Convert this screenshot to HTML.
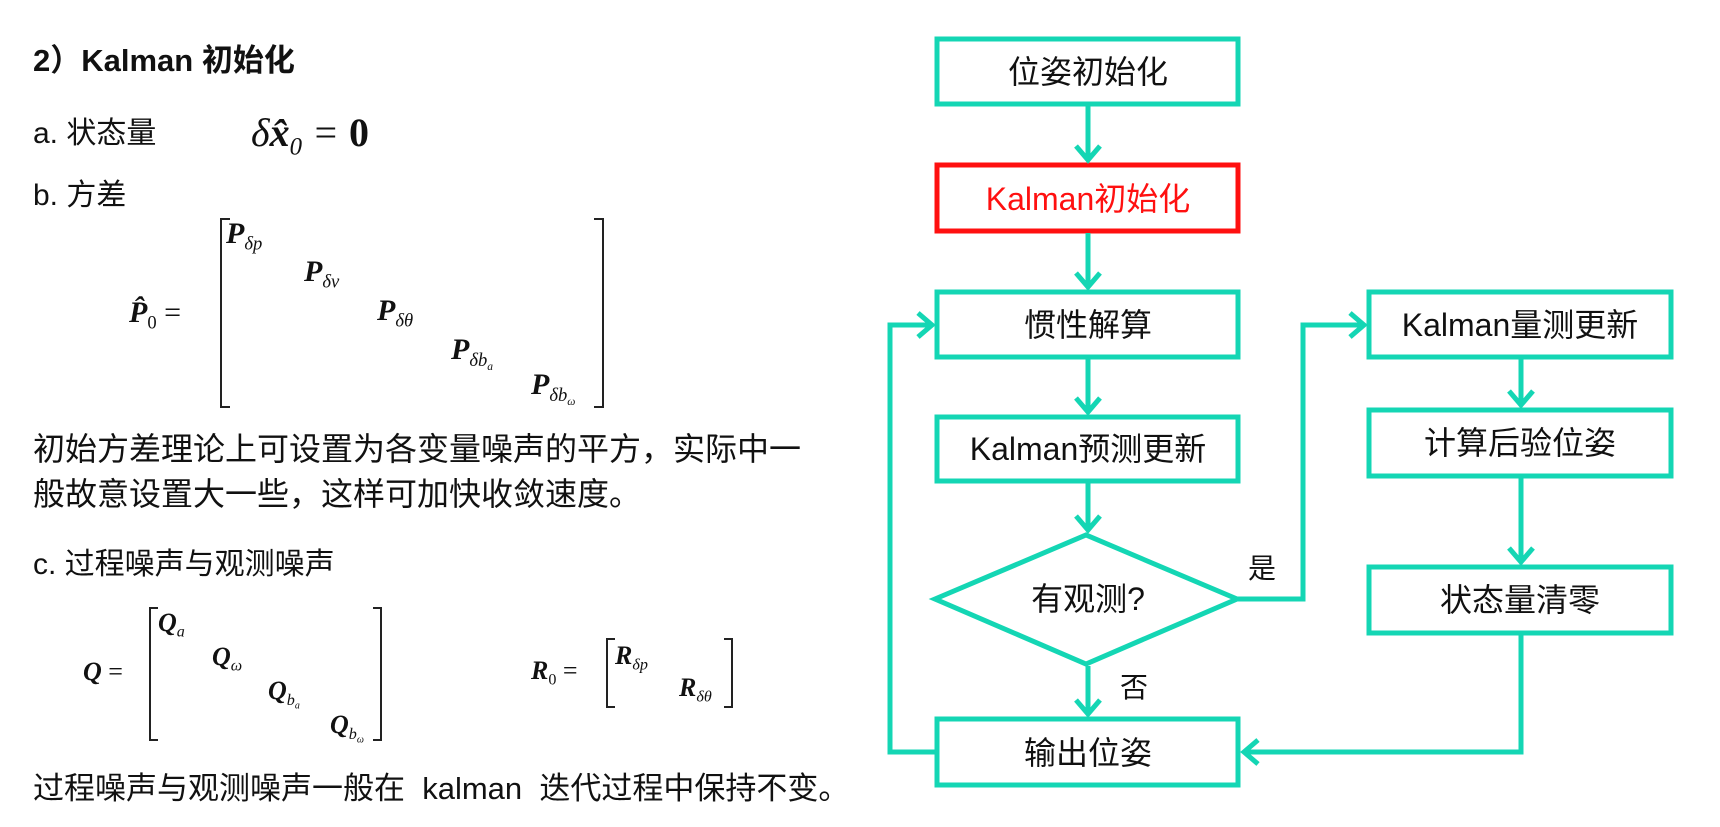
<!DOCTYPE html>
<html><head><meta charset="utf-8"><style>
html,body{margin:0;width:1720px;height:827px;background:#fff;overflow:hidden}
body{position:relative;font-family:"Liberation Sans","Noto Sans CJK SC",sans-serif;color:#111}
.t{position:absolute;white-space:nowrap;line-height:1}
.m{position:absolute;white-space:nowrap;line-height:1;font-family:"Liberation Serif","DejaVu Serif",serif;font-style:italic;font-weight:bold}
.m sub{font-size:62%;font-weight:normal;vertical-align:-0.35em}
.br{position:absolute;border:2px solid #222}
</style></head><body>
<div class="t" style="left:33px;top:45px;font-size:31px;font-weight:bold">2）Kalman 初始化</div>
<div class="t" style="left:33px;top:119px;font-size:30px">a. 状态量</div>
<div class="m" style="left:251px;top:113px;font-size:40px;font-weight:normal">δ<b>x̂</b><sub>0</sub> = <b style="font-style:normal">0</b></div>
<div class="t" style="left:33px;top:181px;font-size:30px">b. 方差</div>
<div class="m" style="left:129px;top:298px;font-size:30px">P̂<sub style="font-style:normal">0</sub> <span style="font-weight:normal;font-style:normal">=</span></div>
<div class="br" style="left:220px;top:218px;width:8px;height:186px;border-right:none"></div>
<div class="br" style="left:594px;top:218px;width:8px;height:186px;border-left:none"></div>
<div class="m" style="left:226px;top:219px;font-size:30px">P<sub>δp</sub></div>
<div class="m" style="left:304px;top:257px;font-size:30px">P<sub>δv</sub></div>
<div class="m" style="left:377px;top:296px;font-size:30px">P<sub>δθ</sub></div>
<div class="m" style="left:451px;top:335px;font-size:30px">P<sub>δb<sub>a</sub></sub></div>
<div class="m" style="left:531px;top:370px;font-size:30px">P<sub>δb<sub>ω</sub></sub></div>
<div class="t" style="left:33px;top:433px;font-size:32px">初始方差理论上可设置为各变量噪声的平方，实际中一</div>
<div class="t" style="left:33px;top:478px;font-size:32px">般故意设置大一些，这样可加快收敛速度。</div>
<div class="t" style="left:33px;top:550px;font-size:30px">c. 过程噪声与观测噪声</div>
<div class="m" style="left:83px;top:659px;font-size:26px">Q <span style="font-weight:normal;font-style:normal">=</span></div>
<div class="br" style="left:149px;top:607px;width:7px;height:130px;border-right:none"></div>
<div class="br" style="left:373px;top:607px;width:7px;height:130px;border-left:none"></div>
<div class="m" style="left:158px;top:610px;font-size:26px">Q<sub>a</sub></div>
<div class="m" style="left:212px;top:644px;font-size:26px">Q<sub>ω</sub></div>
<div class="m" style="left:268px;top:678px;font-size:26px">Q<sub>b<sub>a</sub></sub></div>
<div class="m" style="left:330px;top:712px;font-size:26px">Q<sub>b<sub>ω</sub></sub></div>
<div class="m" style="left:531px;top:658px;font-size:26px">R<sub style="font-style:normal">0</sub> <span style="font-weight:normal;font-style:normal">=</span></div>
<div class="br" style="left:606px;top:638px;width:7px;height:66px;border-right:none"></div>
<div class="br" style="left:724px;top:638px;width:7px;height:66px;border-left:none"></div>
<div class="m" style="left:615px;top:643px;font-size:26px">R<sub>δp</sub></div>
<div class="m" style="left:679px;top:675px;font-size:26px">R<sub>δθ</sub></div>
<div class="t" style="left:33px;top:773px;font-size:31px">过程噪声与观测噪声一般在&nbsp; kalman&nbsp; 迭代过程中保持不变。</div>
<svg style="position:absolute;left:0;top:0" width="1720" height="827">
<g fill="none" stroke="#14d6b4" stroke-width="5">
<rect x="937" y="39" width="301" height="65" fill="#fff"/>
<rect x="937" y="165" width="301" height="66" stroke="#ff1010"/>
<rect x="937" y="292" width="301" height="65"/>
<rect x="937" y="417" width="301" height="64"/>
<polygon points="935,599 1086,535 1237,599 1086,664"/>
<rect x="937" y="719" width="301" height="66"/>
<rect x="1369" y="292" width="302" height="65"/>
<rect x="1369" y="410" width="302" height="66"/>
<rect x="1369" y="567" width="302" height="66"/>
<path d="M1088,106 V160 M1088,233 V287 M1088,359 V412 M1088,483 V530 M1088,666 V714 M1521,359 V405 M1521,478 V562"/>
<path d="M1076,146 L1088,160 L1100,146 M1076,273 L1088,287 L1100,273 M1076,398 L1088,412 L1100,398 M1076,516 L1088,530 L1100,516 M1076,700 L1088,714 L1100,700 M1509,391 L1521,405 L1533,391 M1509,548 L1521,562 L1533,548"/>
<path d="M937,752 H890 V325 H932 M918,313 L932,325 L918,337"/>
<path d="M1237,599 H1303 V325 H1364 M1350,313 L1364,325 L1350,337"/>
<path d="M1521,633 V752 H1244 M1258,740 L1244,752 L1258,764"/>
</g>
<g font-family="Liberation Sans,Noto Sans CJK SC,sans-serif" font-size="32" text-anchor="middle" fill="#111">
<text x="1088" y="83">位姿初始化</text>
<text x="1088" y="210" fill="#ff1010">Kalman初始化</text>
<text x="1088" y="336">惯性解算</text>
<text x="1088" y="460">Kalman预测更新</text>
<text x="1088" y="610">有观测?</text>
<text x="1088" y="764">输出位姿</text>
<text x="1520" y="336">Kalman量测更新</text>
<text x="1520" y="454">计算后验位姿</text>
<text x="1520" y="611">状态量清零</text>
<text x="1262" y="578" font-size="28">是</text>
<text x="1134" y="697" font-size="28">否</text>
</g>
</svg>
</body></html>
